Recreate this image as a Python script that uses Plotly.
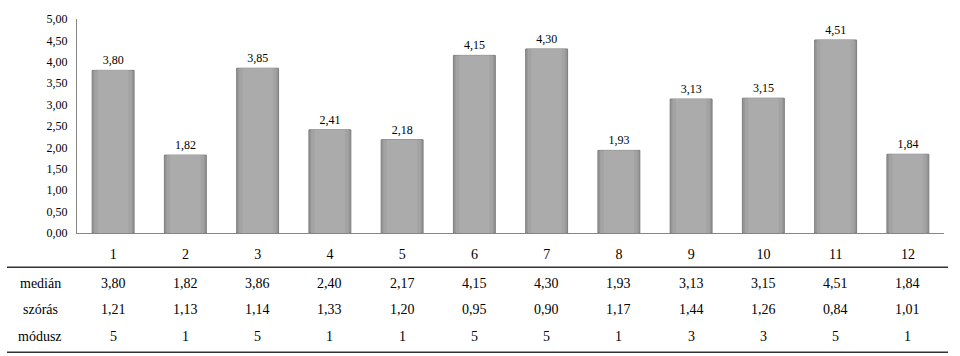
import plotly.graph_objects as go

categories = ["1", "2", "3", "4", "5", "6", "7", "8", "9", "10", "11", "12"]
means = [3.80, 1.82, 3.85, 2.41, 2.18, 4.15, 4.30, 1.93, 3.13, 3.15, 4.51, 1.84]
mean_labels = ["3,80", "1,82", "3,85", "2,41", "2,18", "4,15", "4,30", "1,93", "3,13", "3,15", "4,51", "1,84"]
row_names = ["medián", "szórás", "módusz"]
median_vals = ["3,80", "1,82", "3,86", "2,40", "2,17", "4,15", "4,30", "1,93", "3,13", "3,15", "4,51", "1,84"]
std_vals = ["1,21", "1,13", "1,14", "1,33", "1,20", "0,95", "0,90", "1,17", "1,44", "1,26", "0,84", "1,01"]
mode_vals = ["5", "1", "5", "1", "1", "5", "5", "1", "3", "3", "5", "1"]
y_ticks = [0, 0.5, 1, 1.5, 2, 2.5, 3, 3.5, 4, 4.5, 5]
y_tick_text = ["0,00", "0,50", "1,00", "1,50", "2,00", "2,50", "3,00", "3,50", "4,00", "4,50", "5,00"]

FONT = "Liberation Serif"

fig = go.Figure()
# layered bars to mimic bevel shading
layers = [(0.58, "#959595", 1, "#7d7d7d"), (0.52, "#a3a3a3", 0, None), (0.42, "#ababab", 0, None)]
for i, (w, col, lw, lc) in enumerate(layers):
    fig.add_trace(go.Bar(
        x=categories, y=means, width=w,
        marker=dict(color=col, line=dict(width=lw, color=lc or col)),
        text=mean_labels if i == 0 else None,
        textposition="outside" if i == 0 else "none",
        textfont=dict(family=FONT, size=12, color="#000"),
        cliponaxis=False, hoverinfo="skip", showlegend=False,
    ))

fig.update_layout(
    width=960, height=356,
    margin=dict(l=77, r=16, t=15, b=123),
    paper_bgcolor="white", plot_bgcolor="white",
    barmode="overlay",
    font=dict(family=FONT, color="#000"),
    xaxis=dict(type="category", categoryorder="array", categoryarray=categories,
               range=[-0.5, len(categories) - 0.5],
               showline=True, linecolor="#868686", linewidth=1, ticks="",
               ticklabelstandoff=8,
               tickfont=dict(family=FONT, size=14), showgrid=False, zeroline=False),
    yaxis=dict(range=[0, 5], tickvals=y_ticks, ticktext=y_tick_text,
               showline=True, linecolor="#868686", linewidth=1, ticks="",
               ticklabelstandoff=6,
               tickfont=dict(family=FONT, size=12), showgrid=False, zeroline=False),
)

plot_h = 356 - 15 - 123
def py(pix):
    return (233 - pix) / plot_h

plot_w = 960 - 77 - 16
def px(pix):
    return (pix - 77) / plot_w

row_y = [284, 311, 338]
for name, vals, yy in zip(row_names, [median_vals, std_vals, mode_vals], row_y):
    fig.add_annotation(x=px(40), y=py(yy), xref="paper", yref="paper", text=name,
                       showarrow=False, font=dict(family=FONT, size=14), xanchor="center", yanchor="middle")
    for idx, v in enumerate(vals):
        fig.add_annotation(x=idx, y=py(yy), xref="x", yref="paper", text=v,
                           showarrow=False, font=dict(family=FONT, size=14), xanchor="center", yanchor="middle")

for yy in [268, 354.5]:
    fig.add_shape(type="line", xref="paper", yref="paper", x0=px(7), x1=px(948), y0=py(yy), y1=py(yy),
                  line=dict(color="#333", width=1.5))

fig.write_html("out.html")
